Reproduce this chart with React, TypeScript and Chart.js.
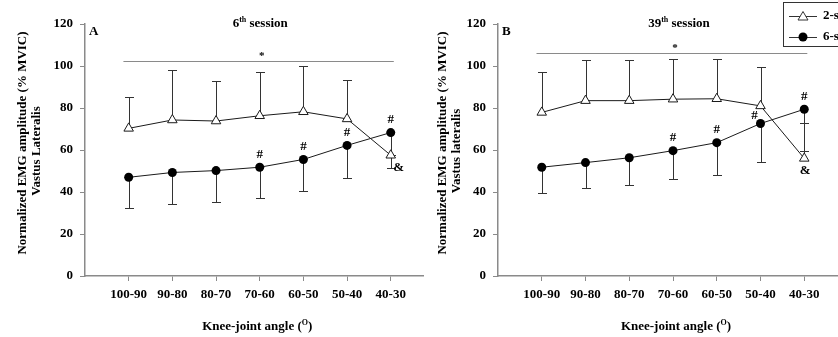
import React, { useEffect, useRef } from 'react';
import { Chart, registerables } from 'chart.js';

Chart.register(...registerables);

// ---------- data ----------
const categories = ['100-90', '90-80', '80-70', '70-60', '60-50', '50-40', '40-30'];
const seriesNames = ['2-s', '6-s'];
const yTitleLine1 = 'Normalized EMG amplitude (% MVIC)';
const xTitle = 'Knee-joint angle (';

// Panel A: 6th session
const sessionA = '6';
const muscleA = 'Vastus Lateralis';
const twoSecA = [70.3, 74.3, 73.8, 76.3, 78.2, 74.8, 57.5];
const twoSecErrEndA = [85.0, 98.2, 92.8, 97.1, 99.8, 93.5, 51.2];
const sixSecA = [47.0, 49.3, 50.2, 51.8, 55.5, 62.2, 68.3];
const sixSecErrEndA = [32.5, 34.5, 35.0, 37.0, 40.7, 46.8, 57.5];
const starLevelA = 102.5;
const hashIdxA = [3, 4, 5, 6];

// Panel B: 39th session
const sessionB = '39';
const muscleB = 'Vastus lateralis';
const twoSecB = [77.9, 83.5, 83.5, 84.2, 84.4, 81.0, 56.0];
const twoSecErrEndB = [97.3, 102.8, 103.0, 103.4, 103.4, 99.6, 72.7];
const sixSecB = [51.8, 54.0, 56.3, 59.7, 63.5, 72.6, 79.4];
const sixSecErrEndB = [39.4, 41.8, 43.3, 46.0, 48.2, 54.2, 59.7];
const starLevelB = 106.3;
const hashIdxB = [3, 4, 5, 6];

const ampIdx = 6;

// ---------- styling ----------
const FONT = '"Liberation Serif", "Times New Roman", serif';
const AXIS = '#8a8a8a';
const INK = '#1a1a1a';

type PanelCfg = {
  letter: string;
  session: string;
  muscle: string;
  two: number[];
  twoEnd: number[];
  six: number[];
  sixEnd: number[];
  star: number;
  hash: number[];
  ampMode: 'right' | 'below';
  legend: boolean;
  canvasLeft: number;
  canvasWidth: number;
  yWidth: number;
  padRight: number;
  xMax: number;
};

function drawSup(ctx: CanvasRenderingContext2D, parts: [string, boolean][], cx: number, cy: number) {
  const big = `bold 13px ${FONT}`;
  const small = `bold 8px ${FONT}`;
  let total = 0;
  for (const [t, sup] of parts) {
    ctx.font = sup ? small : big;
    total += ctx.measureText(t).width;
  }
  let x = cx - total / 2;
  ctx.textBaseline = 'alphabetic';
  ctx.textAlign = 'left';
  for (const [t, sup] of parts) {
    ctx.font = sup ? small : big;
    ctx.fillText(t, x, sup ? cy - 5 : cy);
    x += ctx.measureText(t).width;
  }
}

function makePlugin(cfg: PanelCfg) {
  return {
    id: 'annot' + cfg.letter,
    beforeDatasetsDraw(chart: any) {
      const ctx = chart.ctx as CanvasRenderingContext2D;
      const xs = chart.scales.x;
      const ys = chart.scales.y;
      ctx.save();
      // significance line
      ctx.strokeStyle = AXIS;
      ctx.lineWidth = 1;
      ctx.beginPath();
      const ly = Math.round(ys.getPixelForValue(cfg.star)) + 0.5;
      ctx.moveTo(xs.getPixelForValue(1 - 0.12), ly);
      ctx.lineTo(xs.getPixelForValue(7 + 0.07), ly);
      ctx.stroke();
      // error bars
      ctx.strokeStyle = '#333';
      const bars = (vals: number[], ends: number[]) => {
        vals.forEach((v, i) => {
          const x = Math.round(xs.getPixelForValue(i + 1)) + 0.5;
          const y0 = ys.getPixelForValue(v);
          const y1 = Math.round(ys.getPixelForValue(ends[i])) + 0.5;
          ctx.beginPath();
          ctx.moveTo(x, y0);
          ctx.lineTo(x, y1);
          ctx.moveTo(x - 4.5, y1);
          ctx.lineTo(x + 4.5, y1);
          ctx.stroke();
        });
      };
      bars(cfg.two, cfg.twoEnd);
      bars(cfg.six, cfg.sixEnd);
      ctx.restore();
    },
    afterDraw(chart: any) {
      const ctx = chart.ctx as CanvasRenderingContext2D;
      const xs = chart.scales.x;
      const ys = chart.scales.y;
      const ca = chart.chartArea;
      ctx.save();
      ctx.fillStyle = '#000';
      // star
      ctx.font = `bold 11px ${FONT}`;
      ctx.textAlign = 'center';
      ctx.textBaseline = 'middle';
      ctx.fillText('*', (xs.getPixelForValue(1) + xs.getPixelForValue(7)) / 2 + 2, ys.getPixelForValue(cfg.star) - 5);
      // hashes
      ctx.font = `bold 13px ${FONT}`;
      cfg.hash.forEach((i) => {
        const hx = xs.getPixelForValue(i + 1);
        const sy = ys.getPixelForValue(cfg.six[i]);
        const ty = ys.getPixelForValue(cfg.two[i]);
        let hy = sy - 13;
        let dx = 0;
        if (Math.abs(ty - hy) < 10) {
          // avoid overlapping the triangle marker
          hy = sy - 8;
          dx = -6;
        }
        ctx.fillText('#', hx + dx, hy);
      });
      // ampersand
      const ax = xs.getPixelForValue(ampIdx + 1);
      if (cfg.ampMode === 'right') {
        ctx.fillText('&', ax + 8, ys.getPixelForValue(cfg.twoEnd[ampIdx]) - 1);
      } else {
        ctx.fillText('&', ax + 1, ys.getPixelForValue(cfg.two[ampIdx]) + 12);
      }
      // panel letter
      ctx.textAlign = 'left';
      ctx.fillText(cfg.letter, ca.left + 4, ca.top + 8);
      // title
      const mid = (ca.left + ca.right) / 2;
      drawSup(ctx, [[cfg.session, false], ['th', true], [' session', false]], mid + 6, 27);
      // x title
      drawSup(ctx, [[xTitle, false], ['O', true], [')', false]], mid + 3, 330);
      // y title
      ctx.save();
      ctx.translate(23, 143);
      ctx.rotate(-Math.PI / 2);
      ctx.font = `bold 13px ${FONT}`;
      ctx.textAlign = 'center';
      ctx.textBaseline = 'middle';
      ctx.fillText(yTitleLine1, 0, 0);
      ctx.fillText(cfg.muscle, -8, 13.5);
      ctx.restore();
      // legend
      if (cfg.legend) {
        const lx = 783 - cfg.canvasLeft;
        ctx.strokeStyle = '#333';
        ctx.lineWidth = 1;
        ctx.strokeRect(lx + 0.5, 2.5, 120, 44);
        const rows = [16, 37];
        rows.forEach((ry, k) => {
          ctx.beginPath();
          ctx.moveTo(lx + 6, ry + 0.5);
          ctx.lineTo(lx + 34, ry + 0.5);
          ctx.stroke();
          const mx = lx + 20;
          if (k === 0) {
            ctx.fillStyle = '#fff';
            ctx.beginPath();
            ctx.moveTo(mx, ry - 4.5);
            ctx.lineTo(mx + 5, ry + 4);
            ctx.lineTo(mx - 5, ry + 4);
            ctx.closePath();
            ctx.fill();
            ctx.stroke();
          } else {
            ctx.fillStyle = '#000';
            ctx.beginPath();
            ctx.arc(mx, ry, 4.5, 0, Math.PI * 2);
            ctx.fill();
          }
          ctx.fillStyle = '#000';
          ctx.font = `bold 13px ${FONT}`;
          ctx.textAlign = 'left';
          ctx.textBaseline = 'middle';
          ctx.fillText(seriesNames[k], lx + 40, ry);
        });
      }
      ctx.restore();
    },
  };
}

function Panel({ cfg }: { cfg: PanelCfg }) {
  const ref = useRef<HTMLCanvasElement>(null);
  useEffect(() => {
    const canvas = ref.current!;
    const toPts = (arr: number[]) => arr.map((v, i) => ({ x: i + 1, y: v }));
    const chart = new Chart(canvas, {
      type: 'line',
      data: {
        datasets: [
          {
            label: seriesNames[0],
            data: toPts(cfg.two),
            borderColor: INK,
            borderWidth: 1,
            pointStyle: 'triangle',
            pointRadius: 5.5,
            pointBackgroundColor: '#fff',
            pointBorderColor: INK,
            pointBorderWidth: 1,
            tension: 0,
          },
          {
            label: seriesNames[1],
            data: toPts(cfg.six),
            borderColor: INK,
            borderWidth: 1,
            pointStyle: 'circle',
            pointRadius: 4.5,
            pointBackgroundColor: '#000',
            pointBorderColor: '#000',
            pointBorderWidth: 0,
            tension: 0,
          },
        ],
      },
      options: {
        animation: false,
        responsive: false,
        devicePixelRatio: 1,
        layout: { padding: { left: 0, top: 24, right: cfg.padRight, bottom: 0 } },
        plugins: { legend: { display: false }, tooltip: { enabled: false }, title: { display: false } },
        scales: {
          x: {
            type: 'linear',
            min: 0,
            max: cfg.xMax,
            afterBuildTicks: (s: any) => {
              s.ticks = categories.map((_, i) => ({ value: i + 1 }));
            },
            afterFit: (s: any) => {
              s.height = 61;
            },
            ticks: {
              autoSkip: false,
              maxRotation: 0,
              padding: 6,
              color: '#000',
              font: { family: FONT, size: 13, weight: 'bold' },
              callback: (v: any) => categories[Number(v) - 1] ?? '',
            },
            grid: { drawOnChartArea: false, drawTicks: true, tickLength: 5, color: AXIS },
            border: { display: true, color: AXIS, width: 1.5 },
          },
          y: {
            min: 0,
            max: 120,
            afterFit: (s: any) => {
              s.width = cfg.yWidth;
            },
            ticks: {
              stepSize: 20,
              padding: 7,
              color: '#000',
              font: { family: FONT, size: 13, weight: 'bold' },
            },
            grid: { drawOnChartArea: false, drawTicks: true, tickLength: 5, color: AXIS },
            border: { display: true, color: AXIS, width: 1.5 },
          },
        },
      } as any,
      plugins: [makePlugin(cfg)],
    });
    return () => chart.destroy();
  }, [cfg]);
  return (
    <canvas
      ref={ref}
      width={cfg.canvasWidth}
      height={337}
      style={{ position: 'absolute', left: cfg.canvasLeft, top: 0, width: cfg.canvasWidth, height: 337 }}
    />
  );
}

const panelA: PanelCfg = {
  letter: 'A', session: sessionA, muscle: muscleA,
  two: twoSecA, twoEnd: twoSecErrEndA, six: sixSecA, sixEnd: sixSecErrEndA,
  star: starLevelA, hash: hashIdxA, ampMode: 'right', legend: false,
  canvasLeft: 0, canvasWidth: 430, yWidth: 85, padRight: 4, xMax: 7.75,
};
const panelB: PanelCfg = {
  letter: 'B', session: sessionB, muscle: muscleB,
  two: twoSecB, twoEnd: twoSecErrEndB, six: sixSecB, sixEnd: sixSecErrEndB,
  star: starLevelB, hash: hashIdxB, ampMode: 'below', legend: true,
  canvasLeft: 420, canvasWidth: 440, yWidth: 78, padRight: 12, xMax: 8,
};

export default function App() {
  return (
    <div style={{ position: 'absolute', left: 0, top: 0, width: 838, height: 337, overflow: 'hidden', background: '#fff' }}>
      <Panel cfg={panelB} />
      <Panel cfg={panelA} />
    </div>
  );
}
